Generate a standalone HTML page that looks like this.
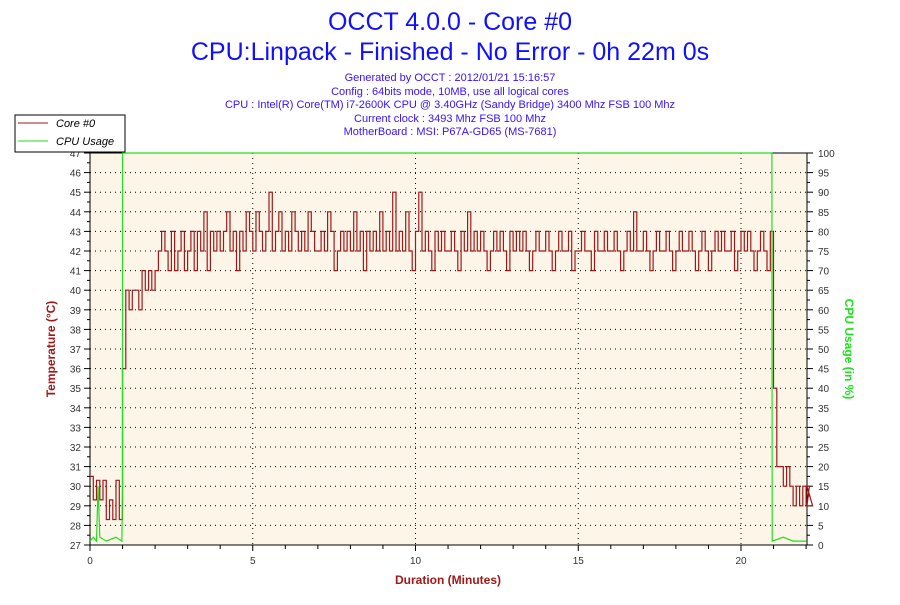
<!DOCTYPE html>
<html><head><meta charset="utf-8"><style>
body{margin:0;background:#fff;width:900px;height:600px;overflow:hidden;font-family:"Liberation Sans",sans-serif}
</style></head><body>
<svg id="chart" width="900" height="600" xmlns="http://www.w3.org/2000/svg" font-family="Liberation Sans, sans-serif">
<text x="450" y="30" font-size="25" fill="#1010ff" text-anchor="middle">OCCT 4.0.0 - Core #0</text>
<text x="450" y="60" font-size="25" fill="#1010ff" text-anchor="middle">CPU:Linpack - Finished - No Error - 0h 22m 0s</text>
<g font-size="11" fill="#3a10ff" text-anchor="middle">
<text x="450" y="81">Generated by OCCT : 2012/01/21 15:16:57</text>
<text x="450" y="95">Config : 64bits mode, 10MB, use all logical cores</text>
<text x="450" y="108">CPU : Intel(R) Core(TM) i7-2600K CPU @ 3.40GHz (Sandy Bridge) 3400 Mhz FSB 100 Mhz</text>
<text x="450" y="122">Current clock : 3493 Mhz FSB 100 Mhz</text>
<text x="450" y="135">MotherBoard : MSI: P67A-GD65 (MS-7681)</text>
</g>
<rect x="90" y="153" width="717" height="392" fill="#fdf6e8"/>
<g id="grid"></g>
<g id="axes"></g>
<g id="series"></g>
<rect x="15" y="115" width="110" height="37" fill="#fff" stroke="#000"/>
<line x1="18" y1="123" x2="48" y2="123" stroke="#a01818"/>
<text x="56" y="127" font-size="11" font-style="italic" fill="#000">Core #0</text>
<line x1="18" y1="141" x2="48" y2="141" stroke="#20e020"/>
<text x="56" y="145" font-size="11" font-style="italic" fill="#000">CPU Usage</text>
<text x="448" y="584" font-size="12" font-weight="bold" fill="#a01818" text-anchor="middle">Duration (Minutes)</text>
<text transform="translate(55,349) rotate(-90)" font-size="12" font-weight="bold" fill="#a01818" text-anchor="middle">Temperature (°C)</text>
<text transform="translate(845,349) rotate(90)" font-size="12" font-weight="bold" fill="#20e020" text-anchor="middle">CPU Usage (in %)</text>
</svg>
<script>
const tempValues=[30.5,29.3,30.3,29.3,30.3,28.3,29.3,28.3,30.3,28.3,
36,40,39,40,40,39,41,40,41,40,
41,42,43,42,41,43,41,42,43,41,
42,43,41,43,42,44,41,43,42,43,
42,43,44,42,43,41,43,42,44,43,
42,44,43,42,43,45,42,43,44,42,
43,42,44,43,42,43,42,44,43,42,
42,43,42,44,43,41,42,43,42,43,
42,44,42,43,41,43,42,43,42,44,
42,43,42,45,42,43,42,44,42,41,
43,45,42,43,42,41,43,42,43,42,
42,43,42,41,43,42,44,42,43,42,
43,42,41,42,43,42,43,42,41,43,
42,43,42,43,42,41,42,43,42,42,
43,42,41,42,43,42,42,43,41,42,
42,43,42,42,41,43,42,42,43,42,
42,43,42,41,42,43,42,44,42,42,
43,42,41,42,43,42,42,43,42,41,
42,43,42,42,43,42,41,42,43,42,
41,42,43,42,43,42,42,43,41,42,
43,42,43,42,41,42,43,42,41,43,
35,31,31,30,31,30,29,30,29,30,
29,30,29];
const tempStep=0.1;
const cpuTimes=[0,0.1,0.2,0.25,0.3,0.5,0.8,0.98,1.0,1.0,20.95,20.96,21.3,21.6,22.0];
const cpuValues=[1,2,1,15,2,1,2,1,15,100,100,1,2,1,1];
const xTicks=[0,5,10,15,20];
const leftTicks=[27,28,29,30,31,32,33,34,35,36,37,38,39,40,41,42,43,44,45,46,47];
const rightTicks=[0,5,10,15,20,25,30,35,40,45,50,55,60,65,70,75,80,85,90,95,100];
const L=90,R=807,T=153,B=545;
const xs=m=>L+m*32.55;
const yT=t=>B-(t-27)*(B-T)/20;
const yC=c=>B-c*(B-T)/100;
const NS='http://www.w3.org/2000/svg';
function mk(tag,attrs,parent){const e=document.createElementNS(NS,tag);for(const k in attrs)e.setAttribute(k,attrs[k]);parent.appendChild(e);return e;}
const grid=document.getElementById('grid'),axes=document.getElementById('axes'),series=document.getElementById('series');
leftTicks.forEach(t=>{const y=yT(t);
 if(t>27&&t<47){const g=mk('line',{x1:L,y1:y,x2:R,y2:y,stroke:'#000','stroke-dasharray':'1,4'},grid);}
 mk('line',{x1:L-6,y1:y,x2:L,y2:y,stroke:'#000'},axes);
 mk('line',{x1:L-3,y1:yT(t+0.5),x2:L,y2:yT(t+0.5),stroke:'#000'},axes);
 const tx=mk('text',{x:L-9,y:y+4,'font-size':'10','text-anchor':'end',fill:'#333'},axes);tx.textContent=t;
 });
rightTicks.forEach(c=>{const y=yC(c);
 mk('line',{x1:R,y1:y,x2:R+6,y2:y,stroke:'#000'},axes);
 if(c<100)mk('line',{x1:R,y1:yC(c+2.5),x2:R+3,y2:yC(c+2.5),stroke:'#000'},axes);
 const tx=mk('text',{x:R+11,y:y+4,'font-size':'10',fill:'#333'},axes);tx.textContent=c;
 });
for(let m=0;m<=22;m++){const x=xs(m);mk('line',{x1:x,y1:B,x2:x,y2:B+(m%5==0?6:4),stroke:'#000'},axes);}
xTicks.forEach(m=>{const x=xs(m);
 if(m>0){const g=mk('line',{x1:x,y1:T,x2:x,y2:B,stroke:'#000','stroke-dasharray':'1,4'},grid);}
 const tx=mk('text',{x:x,y:B+19,'font-size':'10','text-anchor':'middle',fill:'#333'},axes);tx.textContent=m;
 });
mk('rect',{x:L,y:T,width:R-L,height:B-T,fill:'none',stroke:'#000'},axes);
let p='';tempValues.forEach((v,i)=>{const x0=xs(i*tempStep),x1=Math.min(R,xs((i+1)*tempStep)),y=yT(v);p+=(i?' ':'')+x0.toFixed(1)+','+y.toFixed(1)+' '+x1.toFixed(1)+','+y.toFixed(1);});
const tl=mk('polyline',{points:p,fill:'none',stroke:'#a01818','stroke-width':'1.2'},series);

let q='';cpuValues.forEach((v,i)=>{q+=(i?' ':'')+xs(cpuTimes[i]).toFixed(1)+','+yC(v).toFixed(1);});
const cl=mk('polyline',{points:q,fill:'none',stroke:'#20e020','stroke-width':'1.2'},series);

</script>
</body></html>
